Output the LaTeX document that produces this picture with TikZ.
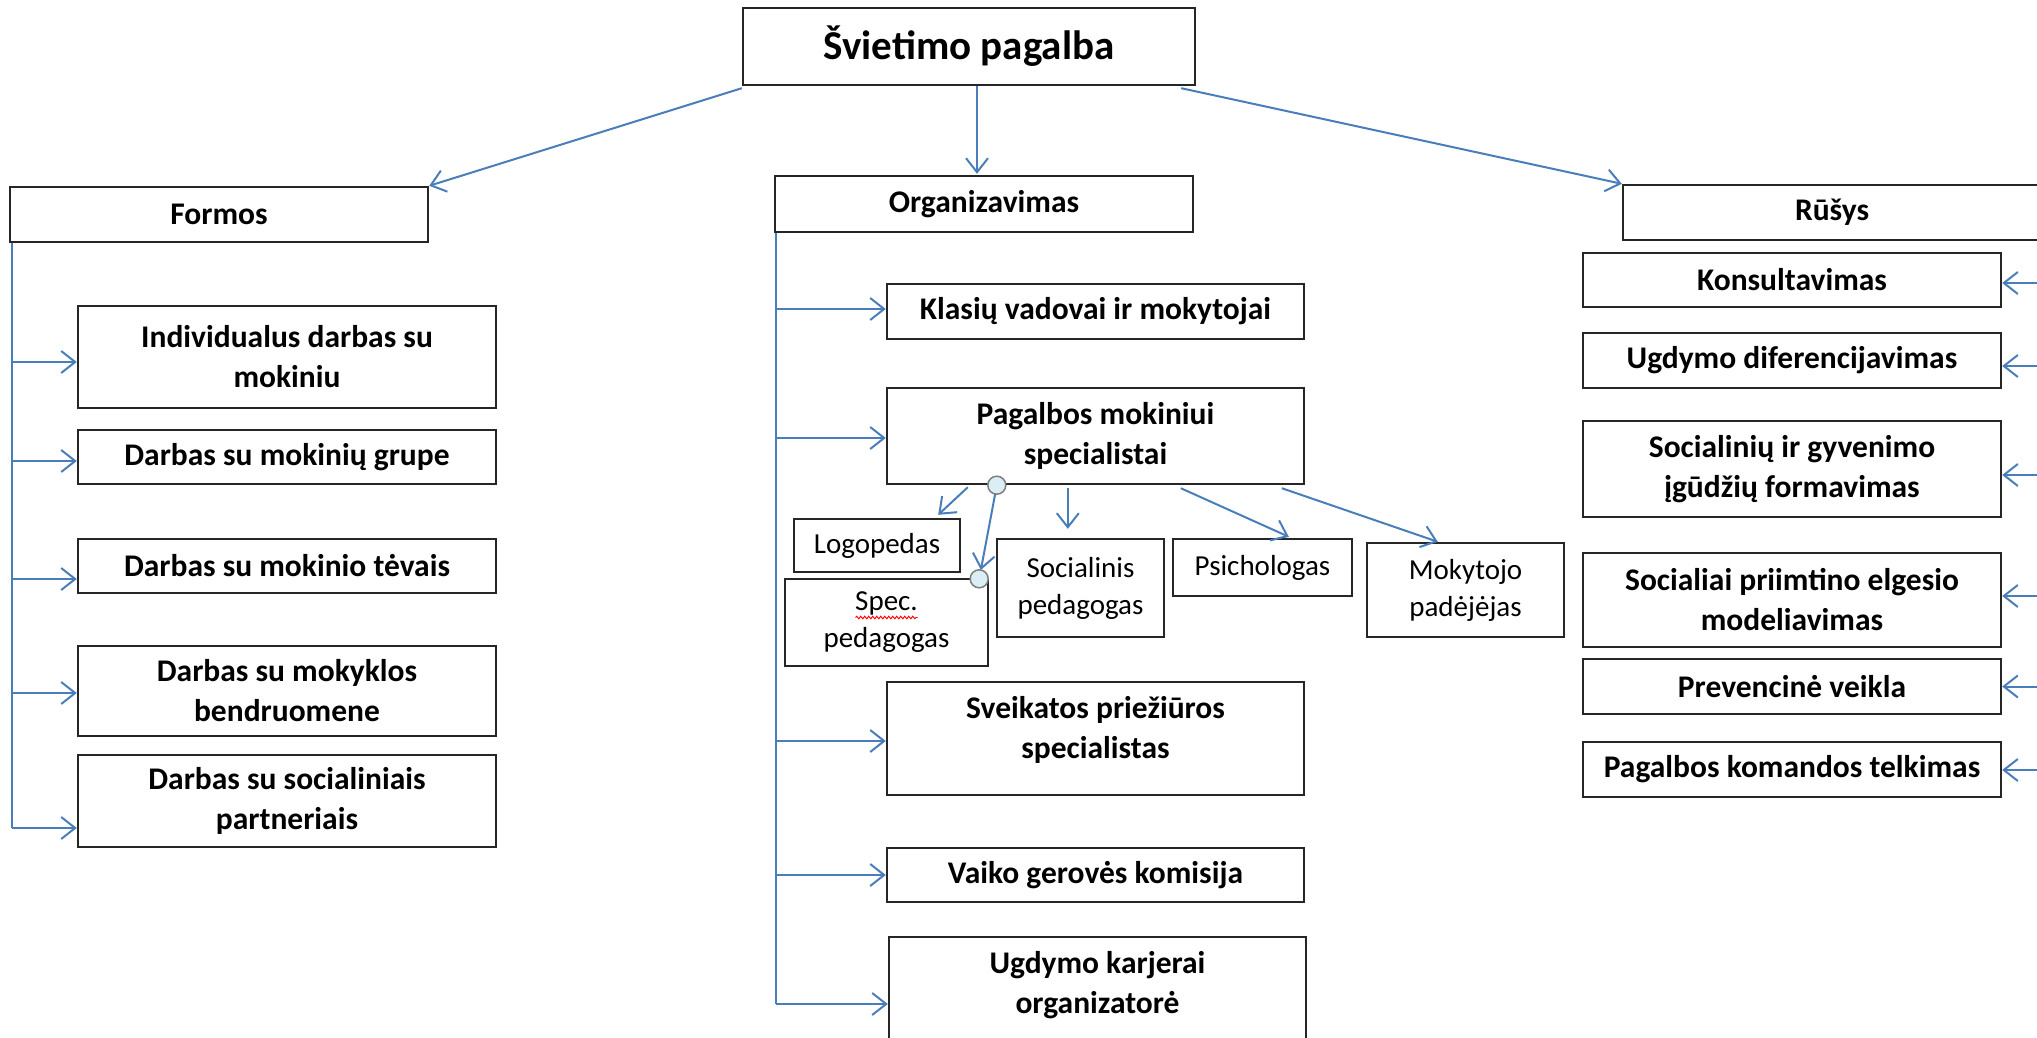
\documentclass[tikz,border=0pt]{standalone}
\usepackage{fontspec}
\setmainfont{Carlito}
\usetikzlibrary{arrows.meta,calc,decorations.pathmorphing}
\definecolor{connc}{HTML}{4A7EBB}
\definecolor{boxline}{HTML}{262626}
\definecolor{dotfill}{HTML}{DAEEF3}
\definecolor{dotline}{HTML}{7F7F7F}
\tikzset{
  box/.style={draw=boxline, line width=2.4pt, fill=white, align=center, inner sep=0pt, text=black, font=\bfseries\fontsize{31.5}{40}\selectfont},
  sbox/.style={box, font=\fontsize{29}{37}\selectfont},
  arr/.style={draw=connc, line width=2pt, -{Straight Barb[length=14pt,width=22pt,line width=2pt]}},
  trunk/.style={draw=connc, line width=2pt},
  dot/.style={circle, draw=dotline, fill=dotfill, line width=1.5pt, minimum size=18pt, inner sep=0pt},
}
\newcommand{\bx}[6]{\node[#1, minimum width=#4pt, minimum height=#5pt] (#2) at (#3) {#6};}
\begin{document}
\begin{tikzpicture}[x=1pt,y=-1pt]
\path[use as bounding box] (0,0) rectangle (2037,1038);
\clip (0,0) rectangle (2037,1038);
\fill[white] (0,0) rectangle (2037,1038);

% top
\node[box, minimum width=452pt, minimum height=77pt, font=\bfseries\fontsize{41}{48}\selectfont] (top) at (969,46.5) {Švietimo pagalba};

% headings
\bx{box}{formos}{219,214.5}{418}{55}{Formos}
\bx{box}{org}{984,204}{418}{56}{Organizavimas}
\bx{box}{rusys}{1832,212.5}{418}{55}{Rūšys}

% left column
\bx{box}{ind}{287,357}{418}{102}{Individualus darbas su\\mokiniu}
\bx{box}{grp}{287,457}{418}{54}{Darbas su mokinių grupe}
\bx{box}{tev}{287,566}{418}{54}{Darbas su mokinio tėvais}
\bx{box}{bendr}{287,691}{418}{90}{Darbas su mokyklos\\bendruomene}
\bx{box}{part}{287,801}{418}{92}{Darbas su socialiniais\\partneriais}

% middle column
\bx{box}{klas}{1095.5,311.5}{417}{55}{Klasių vadovai ir mokytojai}
\bx{box}{pag}{1095.5,436}{417}{96}{Pagalbos mokiniui\\specialistai}
\bx{box}{sveik}{1095.5,738.5}{417}{113}{Sveikatos priežiūros\\specialistas\\[-17pt]\mbox{}}
\bx{box}{vaiko}{1095.5,875}{417}{54}{Vaiko gerovės komisija}
\bx{box}{ugdk}{1097.5,993.5}{417}{113}{Ugdymo karjerai\\organizatorė\\[-17pt]\mbox{}}

% small boxes
\bx{sbox}{logo}{877,545.5}{166}{53}{Logopedas}
\bx{sbox}{spec}{886.5,622.5}{203}{87}{Spec.\\pedagogas}
\bx{sbox}{soc}{1080.5,588}{167}{98}{Socialinis\\pedagogas}
\bx{sbox}{psi}{1262.5,567.5}{179}{57}{Psichologas}
\bx{sbox}{mok}{1465.5,590}{197}{94}{Mokytojo\\padėjėjas}

% right column
\bx{box}{kons}{1792,280}{418}{54}{Konsultavimas}
\bx{box}{udif}{1792,360.5}{418}{55}{Ugdymo diferencijavimas}
\bx{box}{sgyv}{1792,469}{418}{96}{Socialinių ir gyvenimo\\įgūdžių formavimas}
\bx{box}{selg}{1792,600}{418}{94}{Socialiai priimtino elgesio\\modeliavimas}
\bx{box}{prev}{1792,686.5}{418}{55}{Prevencinė veikla}
\bx{box}{pkt}{1792,769.5}{418}{55}{Pagalbos komandos telkimas}

% spell-check underline
\draw[red, line width=0.9pt, decorate, decoration={snake, amplitude=1.3pt, segment length=4pt}] ($(spec.center)+(-31,-5)$) -- ($(spec.center)+(31,-5)$);

% top arrows
\draw[arr] ($(top.south west)+(0,2)$) -- (formos.north east);
\draw[arr] ($(top.south)+(8,0)$) -- ($(org.north)+(-7,-1)$);
\draw[arr] ($(top.south east)+(-15,2)$) -- (rusys.north west);

% left trunk
\coordinate (ft) at ($(formos.south west)+(3,0)$);
\coordinate (aInd) at ($(ind.west)+(0,5)$);
\coordinate (aGrp) at ($(grp.west)+(0,4)$);
\coordinate (aTev) at ($(tev.west)+(0,13)$);
\coordinate (aBen) at ($(bendr.west)+(0,2)$);
\coordinate (aPar) at ($(part.west)+(0,27)$);
\draw[trunk] (ft) -- (ft |- aPar);
\foreach \a in {aInd,aGrp,aTev,aBen,aPar} \draw[arr] (ft |- \a) -- (\a);

% middle trunk
\coordinate (mt) at ($(org.south west)+(2,0)$);
\coordinate (aKla) at ($(klas.west)+(0,-2.5)$);
\coordinate (aPag) at ($(pag.west)+(0,2)$);
\coordinate (aSve) at ($(sveik.west)+(0,2.5)$);
\coordinate (aVai) at (vaiko.west);
\coordinate (aUgk) at ($(ugdk.west)+(0,10.5)$);
\draw[trunk] (mt) -- (mt |- aUgk);
\foreach \a in {aKla,aPag,aSve,aVai,aUgk} \draw[arr] (mt |- \a) -- (\a);

% right incoming arrows
\coordinate (rt) at (2050,280);
\coordinate (aKon) at ($(kons.east)+(0,3)$);
\coordinate (aUdi) at ($(udif.east)+(0,5.5)$);
\coordinate (aSgy) at ($(sgyv.east)+(0,6)$);
\coordinate (aSel) at ($(selg.east)+(0,-4)$);
\coordinate (aPre) at (prev.east);
\coordinate (aPkt) at ($(pkt.east)+(0,0.5)$);
\foreach \a in {aKon,aUdi,aSgy,aSel,aPre,aPkt} \draw[arr] (rt |- \a) -- (\a);

% specialists
\draw[arr] ($(pag.south west)+(82,2)$) -- ($(logo.north east)+(-23,-3)$);
\draw[arr] ($(pag.south west)+(182,3)$) -- ($(soc.north west)+(72,-9)$);
\draw[arr] ($(pag.south west)+(295,3)$) -- ($(psi.north west)+(117,-1)$);
\draw[arr] ($(pag.south west)+(396,3)$) -- ($(mok.north west)+(72,0)$);
\coordinate (c1p) at ($(pag.south west)+(111,0)$);
\coordinate (c2p) at ($(spec.north east)+(-10,1)$);
\draw[arr, shorten <=9pt, shorten >=9pt] (c1p) -- (c2p);
\node[dot] (c1) at (c1p) {};
\node[dot] (c2) at (c2p) {};
\end{tikzpicture}
\end{document}
